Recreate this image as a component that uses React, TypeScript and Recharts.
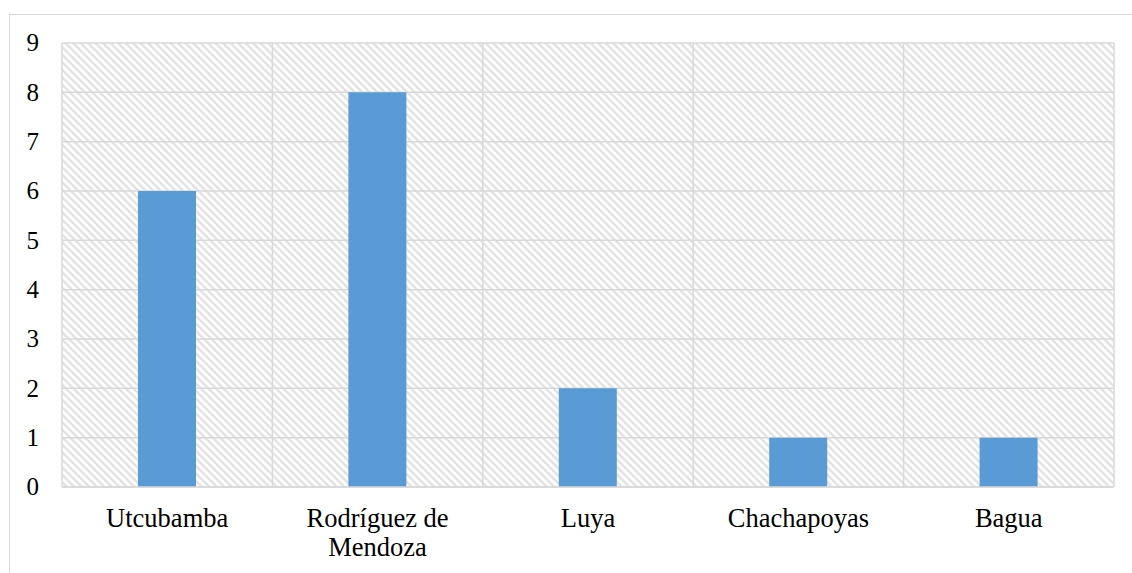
import React from "react";
import { BarChart, Bar, XAxis, YAxis, CartesianGrid } from "recharts";

const categories = ["Utcubamba", "Rodríguez de Mendoza", "Luya", "Chachapoyas", "Bagua"];
const values = [6, 8, 2, 1, 1];
const yTicks = [0, 1, 2, 3, 4, 5, 6, 7, 8, 9];

const data = categories.map((name, i) => ({ name, value: values[i] }));

const W = 1132;
const H = 573;
const MARGIN = { top: 43, right: 18, bottom: 0, left: 0 };
const XAXIS_H = 86;
const YAXIS_W = 62;
const FONT = "'Liberation Serif'";
const FSX = 26.5;
const FSY = 25;
const LH = 29;
const GRID = "#d9d9d9";

const wrap = (s: string, max: number) => {
  const words = s.split(" ");
  const lines: string[] = [];
  let cur = "";
  words.forEach((w) => {
    const next = cur ? cur + " " + w : w;
    if (next.length > max && cur) {
      lines.push(cur);
      cur = w;
    } else cur = next;
  });
  if (cur) lines.push(cur);
  return lines;
};

const XTick = (props: any) => {
  const { x, y, payload } = props;
  const lines = wrap(String(payload.value), 13);
  return (
    <text
      x={x}
      y={y}
      textAnchor="middle"
      fontFamily={FONT}
      fontSize={FSX}
      fill="#000"
      style={{ fontFamily: FONT, fontSize: FSX }}
    >
      {lines.map((l, i) => (
        <tspan key={i} x={x} y={y + FSX * 0.66 + i * LH}>
          {l}
        </tspan>
      ))}
    </text>
  );
};

const YTick = (props: any) => {
  const { x, y, payload } = props;
  return (
    <text
      x={x}
      y={y + FSY * 0.33}
      textAnchor="end"
      fontFamily={FONT}
      fontSize={FSY}
      fill="#000"
      style={{ fontFamily: FONT, fontSize: FSY }}
    >
      {payload.value}
    </text>
  );
};

export default function App() {
  const plotLeft = MARGIN.left + YAXIS_W;
  const plotWidth = W - plotLeft - MARGIN.right;
  const vGen = (args: any) => {
    const off = args && args.offset;
    const left = off && typeof off.left === "number" ? off.left : plotLeft;
    const w = off && typeof off.width === "number" ? off.width : plotWidth;
    return categories.map((_, i) => left + (i * w) / categories.length).concat([left + w]);
  };
  return (
    <div style={{ position: "absolute", left: 0, top: 0, width: W, height: H, overflow: "hidden", background: "#fff", fontFamily: FONT }}>
      <div
        style={{
          position: "absolute",
          left: 9,
          top: 14,
          width: W,
          height: H,
          borderLeft: `1.5px solid ${GRID}`,
          borderTop: `1.5px solid ${GRID}`,
          boxSizing: "border-box",
        }}
      />
      <div style={{ position: "absolute", left: 0, top: 0 }}>
        <BarChart width={W} height={H} data={data} margin={MARGIN}>
          <defs>
            <pattern id="hatch" patternUnits="userSpaceOnUse" width={7.5} height={7.5}>
              <rect width={7.5} height={7.5} fill="#ffffff" />
              <path d="M-2,-2 L9.5,9.5 M-2,5.5 L2,9.5 M5.5,-2 L9.5,2" stroke="#e0e0e0" strokeWidth={2.2} />
            </pattern>
          </defs>
          <CartesianGrid
            stroke={GRID}
            strokeWidth={1.5}
            fill="url(#hatch)"
            fillOpacity={1}
            verticalCoordinatesGenerator={vGen}
          />
          <XAxis
            dataKey="name"
            tick={<XTick />}
            tickLine={false}
            axisLine={{ stroke: GRID, strokeWidth: 1.5 }}
            tickSize={6}
            tickMargin={17}
            interval={0}
            height={XAXIS_H}
          />
          <YAxis
            width={YAXIS_W}
            domain={[0, 9]}
            ticks={yTicks}
            interval={0}
            tickLine={false}
            axisLine={false}
            tickSize={6}
            tickMargin={17}
            tick={<YTick />}
          />
          <Bar dataKey="value" fill="#5B9BD5" barSize={58} isAnimationActive={false} />
        </BarChart>
      </div>
    </div>
  );
}
